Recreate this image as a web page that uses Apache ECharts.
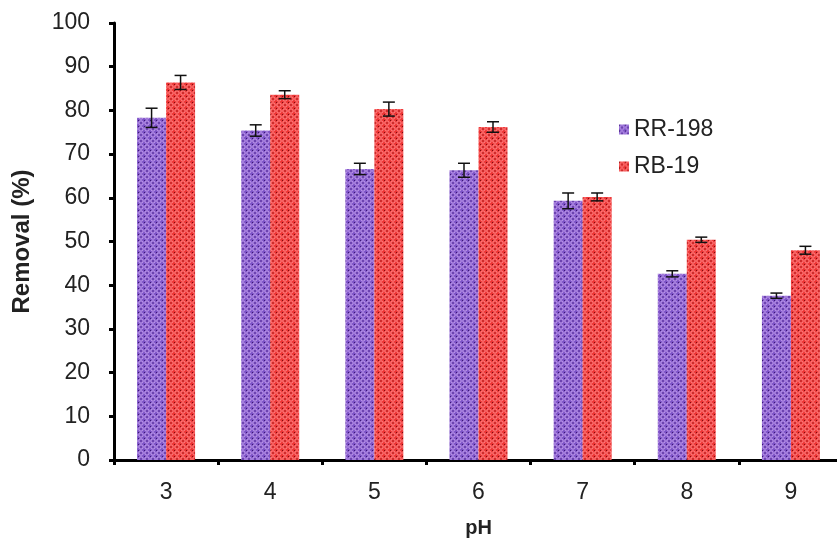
<!DOCTYPE html>
<html>
<head>
<meta charset="utf-8">
<script src="https://cdn.jsdelivr.net/npm/echarts@6/dist/echarts.min.js"></script>
<style>html,body{margin:0;padding:0;background:#fff;}#c{width:837px;height:542px;}</style>
</head>
<body>
<div id="c"></div>
<script>
var categories = ['3', '4', '5', '6', '7', '8', '9'];
var seriesNames = ['RR-198', 'RB-19'];
var rr198 = [78.3, 75.4, 66.6, 66.3, 59.3, 42.6, 37.6];
var rr198Err = [2.2, 1.3, 1.3, 1.6, 1.8, 0.7, 0.6];
var rb19 = [86.4, 83.6, 80.3, 76.2, 60.2, 50.4, 48.0];
var rb19Err = [1.6, 0.9, 1.6, 1.2, 0.9, 0.6, 0.9];

var BAR_W = 29;

function makePattern(base, dot, ring) {
  var c = document.createElement('canvas');
  c.width = 6; c.height = 6;
  var g = c.getContext('2d');
  g.fillStyle = base; g.fillRect(0, 0, 6, 6);
  g.strokeStyle = ring; g.lineWidth = 1;
  g.beginPath(); g.arc(3, 3, 2.2, 0, Math.PI * 2); g.stroke();
  g.fillStyle = dot;
  g.fillRect(0, 0, 1, 1); g.fillRect(2.5, 2.5, 1, 1);
  return c;
}
var purplePat = makePattern('#7c52c6', '#3c1a70', '#c6a2ee');
var redPat = makePattern('#ec3434', '#7a1010', '#ff8a8a');

function errSeries(name, vals, errs, offset) {
  var data = vals.map(function (v, i) { return [i, v - errs[i], v + errs[i]]; });
  return {
    type: 'custom',
    name: name + ' err',
    z: 10,
    silent: true,
    data: data,
    renderItem: function (params, api) {
      var i = api.value(0);
      var lo = api.coord([i, api.value(1)]);
      var hi = api.coord([i, api.value(2)]);
      var x = lo[0] + offset;
      var cap = 6;
      var st = { stroke: '#111', lineWidth: 1.5 };
      return {
        type: 'group',
        children: [
          { type: 'line', shape: { x1: x, y1: lo[1], x2: x, y2: hi[1] }, style: st },
          { type: 'line', shape: { x1: x - cap, y1: lo[1], x2: x + cap, y2: lo[1] }, style: st },
          { type: 'line', shape: { x1: x - cap, y1: hi[1], x2: x + cap, y2: hi[1] }, style: st }
        ]
      };
    }
  };
}

var FONT = 'Liberation Sans, Arial, sans-serif';
var chart = echarts.init(document.getElementById('c'), null, { renderer: 'canvas' });
chart.setOption({
  animation: false,
  backgroundColor: '#fff',
  textStyle: { fontFamily: FONT },
  grid: { left: 114, right: -6, top: 23, bottom: 82, containLabel: false, outerBoundsMode: 'none' },
  legend: {
    data: seriesNames,
    orient: 'vertical',
    left: 614,
    top: 113,
    itemWidth: 10,
    itemHeight: 10,
    itemGap: 14,
    icon: 'rect',
    textStyle: { fontSize: 23, color: '#222', fontFamily: FONT }
  },
  xAxis: {
    type: 'category',
    data: categories,
    name: 'pH',
    nameLocation: 'middle',
    nameGap: 58,
    nameTextStyle: { fontSize: 20, fontWeight: 'bold', color: '#222' },
    axisLine: { lineStyle: { color: '#000', width: 3 } },
    axisTick: { show: true, length: 5, lineStyle: { width: 3, color: '#000' } },
    axisLabel: { fontSize: 23, color: '#222', margin: 21 },
    splitLine: { show: false }
  },
  yAxis: {
    type: 'value',
    min: 0, max: 100, interval: 10,
    name: 'Removal (%)',
    nameLocation: 'middle',
    nameGap: 80,
    nameTextStyle: { fontSize: 24, fontWeight: 'bold', color: '#222' },
    axisLine: { show: true, lineStyle: { color: '#000', width: 3 } },
    axisTick: { show: true, length: 5, lineStyle: { width: 3, color: '#000' } },
    axisLabel: { fontSize: 23, color: '#222', margin: 24 },
    splitLine: { show: false }
  },
  series: [
    {
      name: 'RR-198', type: 'bar', data: rr198, barWidth: BAR_W, barGap: '0%',
      itemStyle: { color: { image: purplePat, repeat: 'repeat' } }
    },
    {
      name: 'RB-19', type: 'bar', data: rb19, barWidth: BAR_W, barGap: '0%',
      itemStyle: { color: { image: redPat, repeat: 'repeat' } }
    },
    errSeries('RR-198', rr198, rr198Err, -BAR_W / 2),
    errSeries('RB-19', rb19, rb19Err, BAR_W / 2)
  ]
});
</script>
</body>
</html>
